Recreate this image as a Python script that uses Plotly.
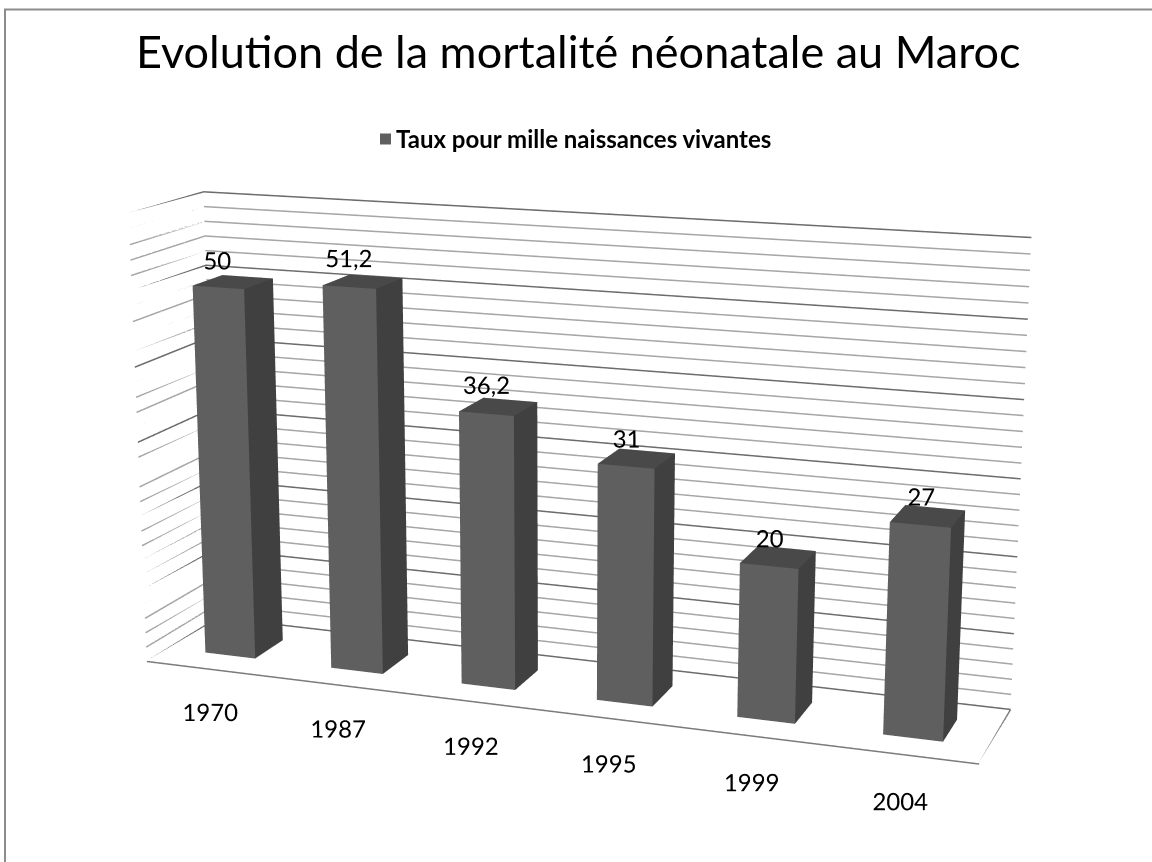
import numpy as np
import plotly.graph_objects as go

# ---- data ----
years = ["1970", "1987", "1992", "1995", "1999", "2004"]
values = [50, 51.2, 36.2, 31, 20, 27]
series_name = "Taux pour mille naissances vivantes"
title_text = "Evolution de la mortalité néonatale au Maroc"
z_max = 60
minor_step = 2
major_step = 10

# ---- page / canvas geometry ----
WIN_W, WIN_H = 1152, 862
K = 2.5                                   # oversize canvas -> milder perspective
FIG_W, FIG_H = int(WIN_W * K), int(WIN_H * K)
VIEW_CX, VIEW_CY = 562, 453               # where the 3D view centre sits in the window
OFF_X = VIEW_CX - FIG_W / 2
OFF_Y = VIEW_CY - FIG_H / 2

def px(x):  # window x -> paper x
    return (x - OFF_X) / FIG_W

def py(y):  # window y -> paper y
    return 1 - (y - OFF_Y) / FIG_H

# ---- styling / geometry ----
bar_w = 0.4
bar_d = 0.45
floor_x = (-0.5, len(years) - 0.5)
floor_y = (0.0, 1.1)
FONT = "Lato, Liberation Sans, Arial, sans-serif"

fig = go.Figure()

# ---- bars as 3D boxes ----
vx, vy, vz, I, J, Kk, fcol = [], [], [], [], [], [], []
C_FRONT, C_SIDE, C_TOP = "#5f5f5f", "#404040", "#494949"
yc = (floor_y[0] + floor_y[1]) / 2
for i, v in enumerate(values):
    x0, x1 = i - bar_w / 2, i + bar_w / 2
    y0, y1 = yc - bar_d / 2, yc + bar_d / 2
    b = len(vx)
    corners = [(x0, y0, 0), (x1, y0, 0), (x1, y1, 0), (x0, y1, 0),
               (x0, y0, v), (x1, y0, v), (x1, y1, v), (x0, y1, v)]
    for c in corners:
        vx.append(c[0]); vy.append(c[1]); vz.append(c[2])
    faces = [
        ((0, 1, 5), C_FRONT), ((0, 5, 4), C_FRONT),   # front
        ((1, 2, 6), C_SIDE), ((1, 6, 5), C_SIDE),     # right
        ((4, 5, 6), C_TOP), ((4, 6, 7), C_TOP),       # top
        ((3, 0, 4), C_SIDE), ((3, 4, 7), C_SIDE),     # left
        ((2, 3, 7), C_SIDE), ((2, 7, 6), C_SIDE),     # back
        ((0, 1, 2), C_SIDE), ((0, 2, 3), C_SIDE),     # bottom
    ]
    for (a, bb, c), col in faces:
        I.append(b + a); J.append(b + bb); Kk.append(b + c); fcol.append(col)

fig.add_trace(go.Mesh3d(x=vx, y=vy, z=vz, i=I, j=J, k=Kk, facecolor=fcol,
                        flatshading=True,
                        lighting=dict(ambient=1, diffuse=0, specular=0, roughness=1, fresnel=0),
                        hoverinfo="skip", showlegend=False))

# ---- gridlines on back wall and side wall ----
def wall_lines(levels):
    xs, ys, zs = [], [], []
    for z in levels:
        xs += [floor_x[0], floor_x[0], floor_x[1], None]
        ys += [floor_y[0], floor_y[1], floor_y[1], None]
        zs += [z, z, z, None]
    return xs, ys, zs

minor_levels = [z for z in range(0, z_max + 1, minor_step) if z % major_step != 0]
major_levels = list(range(0, z_max + 1, major_step))
for lv, col, w in [(minor_levels, "#a6a6a6", 3), (major_levels, "#6c6c6c", 3)]:
    xs, ys, zs = wall_lines(lv)
    fig.add_trace(go.Scatter3d(x=xs, y=ys, z=zs, mode="lines",
                               line=dict(color=col, width=w),
                               hoverinfo="skip", showlegend=False))

# floor outline (front and right edges)
fig.add_trace(go.Scatter3d(
    x=[floor_x[0], floor_x[1], floor_x[1]],
    y=[floor_y[0], floor_y[0], floor_y[1]],
    z=[0, 0, 0], mode="lines", line=dict(color="#7c7c7c", width=3),
    hoverinfo="skip", showlegend=False))

# ---- data labels (above the front of each bar) ----
fig.add_trace(go.Scatter3d(
    x=list(range(len(values))), y=[yc - bar_d / 2] * len(values),
    z=[v + 3.5 for v in values], mode="text",
    text=[f"{v:g}".replace(".", ",") for v in values],
    textposition="middle center",
    textfont=dict(family=FONT, size=24, color="black"),
    hoverinfo="skip", showlegend=False))

# ---- category labels ----
fig.add_trace(go.Scatter3d(
    x=list(range(len(years))), y=[floor_y[0]] * len(years),
    z=[-6] * len(years), mode="text", text=years,
    textposition="middle center",
    textfont=dict(family=FONT, size=24, color="black"),
    hoverinfo="skip", showlegend=False))

# ---- scene ----
xr = [floor_x[0], floor_x[1]]
yr = [-0.2, floor_y[1]]
zr = [-10, 62]
scale = 0.89
unit = scale * 2.6 / (xr[1] - xr[0])
zunit = scale * 1.4 / z_max
phi, theta, r = np.radians(20), np.radians(14), 6.8
cen = dict(x=0.0, y=0.0, z=0.11)
eye = dict(x=cen["x"] + r * np.sin(phi) * np.cos(theta),
           y=cen["y"] - r * np.cos(phi) * np.cos(theta),
           z=cen["z"] + r * np.sin(theta))

axis_off = dict(visible=False, showgrid=False, zeroline=False, showspikes=False,
                showbackground=False)
fig.update_layout(
    width=FIG_W, height=FIG_H,
    margin=dict(l=0, r=0, t=0, b=0),
    paper_bgcolor="white",
    showlegend=False,
    scene=dict(
        domain=dict(x=[0, 1], y=[0, 1]),
        xaxis=dict(range=xr, **axis_off),
        yaxis=dict(range=yr, **axis_off),
        zaxis=dict(range=zr, **axis_off),
        aspectmode="manual",
        aspectratio=dict(x=unit * (xr[1] - xr[0]), y=unit * (yr[1] - yr[0]),
                         z=zunit * (zr[1] - zr[0])),
        camera=dict(eye=eye, up=dict(x=0, y=0, z=1), center=cen,
                    projection=dict(type="perspective")),
        bgcolor="white",
        dragmode=False,
    ),
    shapes=[
        dict(type="rect", xref="paper", yref="paper",
             x0=px(5), x1=px(WIN_W + 20), y0=py(WIN_H + 20), y1=py(9),
             line=dict(color="#8c8c8c", width=2), fillcolor="rgba(0,0,0,0)"),
        dict(type="rect", xref="paper", yref="paper",
             x0=px(380), x1=px(391), y0=py(144), y1=py(133),
             line=dict(width=0), fillcolor=C_FRONT),
    ],
    annotations=[
        dict(text=title_text, xref="paper", yref="paper", x=px(WIN_W / 2 + 2), y=py(50),
             xanchor="center", yanchor="middle", showarrow=False,
             font=dict(family=FONT, size=45, color="black")),
        dict(text="<b>" + series_name + "</b>", xref="paper", yref="paper",
             x=px(394), y=py(138), xanchor="left", yanchor="middle",
             showarrow=False, font=dict(family=FONT, size=24, color="black")),
    ],
)

post = (
    "document.documentElement.style.overflow='hidden';"
    "document.body.style.overflow='hidden';"
    "document.body.style.margin='0';"
    "var d=document.getElementById('{plot_id}');"
    "d.style.position='absolute';"
    f"d.style.left='{OFF_X:.1f}px';"
    f"d.style.top='{OFF_Y:.1f}px';"
)
fig.write_html("out.html", config={"displayModeBar": False}, post_script=post)
